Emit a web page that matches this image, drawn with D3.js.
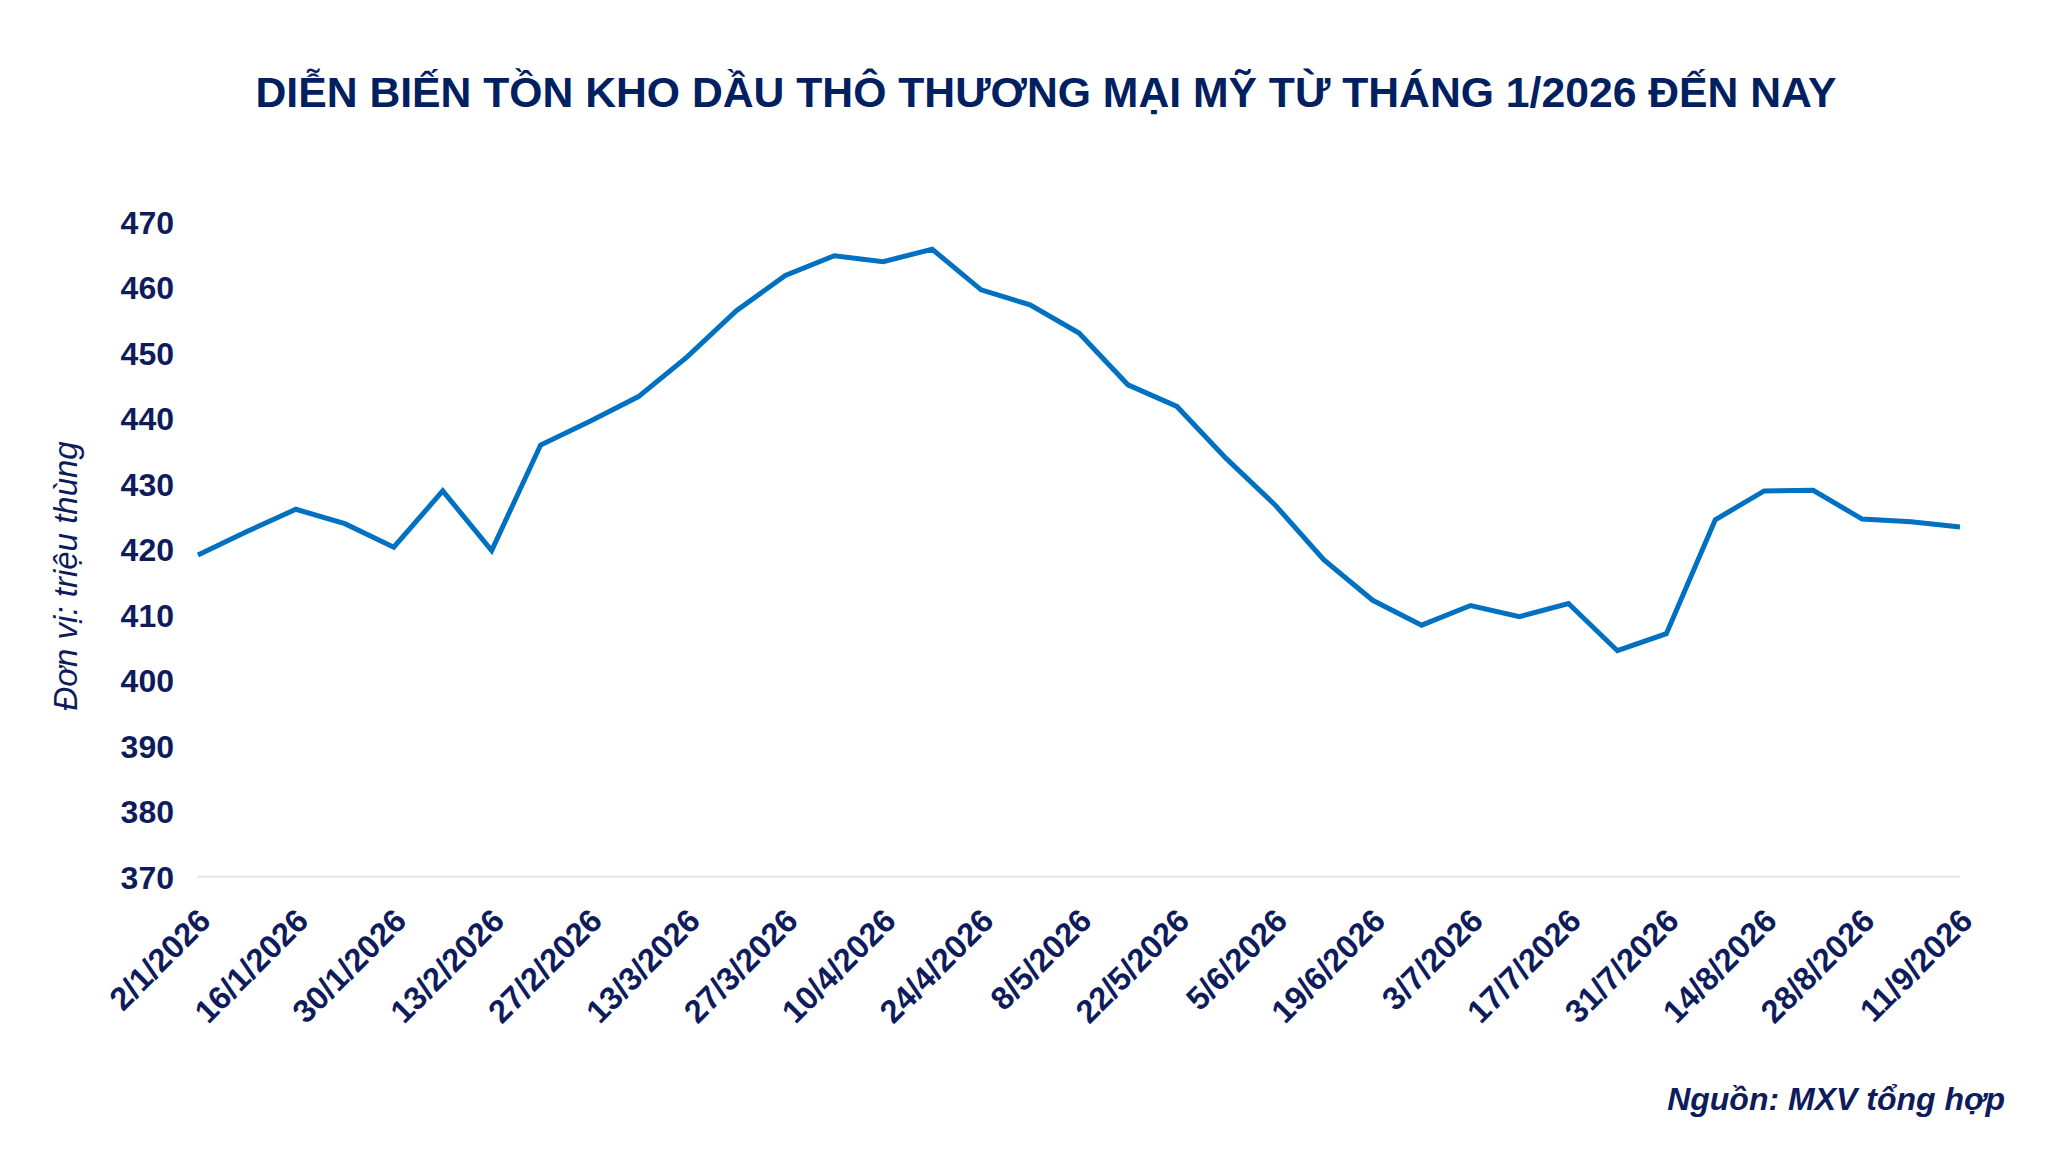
<!DOCTYPE html>
<html>
<head>
<meta charset="utf-8">
<script src="https://cdn.jsdelivr.net/npm/d3@7/dist/d3.min.js"></script>
<style>
  html, body { margin: 0; padding: 0; background: #ffffff; }
  svg { display: block; }
</style>
</head>
<body>
<svg id="chart" width="2048" height="1153"></svg>
<script>
// ---- Data ----
const categories = [
  "2/1/2026","9/1/2026","16/1/2026","23/1/2026","30/1/2026","6/2/2026","13/2/2026",
  "20/2/2026","27/2/2026","6/3/2026","13/3/2026","20/3/2026","27/3/2026","3/4/2026",
  "10/4/2026","17/4/2026","24/4/2026","1/5/2026","8/5/2026","15/5/2026","22/5/2026",
  "29/5/2026","5/6/2026","12/6/2026","19/6/2026","26/6/2026","3/7/2026","10/7/2026",
  "17/7/2026","24/7/2026","31/7/2026","7/8/2026","14/8/2026","21/8/2026","28/8/2026",
  "4/9/2026","11/9/2026"
];
const inventory = [
  419.1, 422.7, 426.1, 423.9, 420.3, 428.9, 419.8,
  435.9, 439.5, 443.3, 449.4, 456.4, 461.8, 464.8,
  463.9, 465.8, 459.6, 457.3, 453.0, 445.1, 441.8,
  433.9, 426.8, 418.4, 412.2, 408.4, 411.4, 409.7,
  411.7, 404.5, 407.1, 424.5, 428.9, 429.0, 424.6,
  424.2, 423.4
];
const xTickLabels = [
  "2/1/2026","16/1/2026","30/1/2026","13/2/2026","27/2/2026","13/3/2026","27/3/2026",
  "10/4/2026","24/4/2026","8/5/2026","22/5/2026","5/6/2026","19/6/2026","3/7/2026",
  "17/7/2026","31/7/2026","14/8/2026","28/8/2026","11/9/2026"
];
const yTicks = [370, 380, 390, 400, 410, 420, 430, 440, 450, 460, 470];

const titleText = "DIỄN BIẾN TỒN KHO DẦU THÔ THƯƠNG MẠI MỸ TỪ THÁNG 1/2026 ĐẾN NAY";
const yAxisTitle = "Đơn vị: triệu thùng";
const sourceText = "Nguồn: MXV tổng hợp";

// ---- Layout ----
const FONT = "'Liberation Sans', Arial, Helvetica, sans-serif";
const navy = "#0f1c5c";
const titleNavy = "#00205f";
const lineBlue = "#0070c0";

const svg = d3.select("#chart");

const x = d3.scalePoint()
  .domain(categories)
  .range([198, 1960]);

const y = d3.scaleLinear()
  .domain([370, 470])
  .range([876.7, 221.7]);

// Title
svg.append("text")
  .attr("x", 1046)
  .attr("y", 107)
  .attr("text-anchor", "middle")
  .style("font-family", FONT)
  .style("font-weight", "bold")
  .style("font-size", "42.7px")
  .style("fill", titleNavy)
  .text(titleText);

// Baseline gridline (x-axis line)
svg.append("line")
  .attr("x1", x.range()[0])
  .attr("x2", x.range()[1])
  .attr("y1", y(370))
  .attr("y2", y(370))
  .attr("stroke", "#e3e3e3")
  .attr("stroke-width", 2);

// Y axis
const yAxis = d3.axisLeft(y)
  .tickValues(yTicks)
  .tickSize(0)
  .tickPadding(0)
  .tickFormat(d3.format("d"));

const yg = svg.append("g")
  .attr("transform", "translate(174,0)")
  .call(yAxis);
yg.select(".domain").remove();
yg.selectAll("text")
  .attr("x", 0)
  .attr("dy", "0.36em")
  .style("font-family", FONT)
  .style("font-weight", "bold")
  .style("font-size", "32px")
  .style("fill", navy);

// X axis
const xAxis = d3.axisBottom(x)
  .tickValues(xTickLabels)
  .tickSize(0)
  .tickPadding(0);

const xg = svg.append("g")
  .attr("transform", `translate(0,${y(370)})`)
  .call(xAxis);
xg.select(".domain").remove();
xg.selectAll("text")
  .attr("x", 0)
  .attr("y", 0)
  .attr("dy", 0)
  .attr("text-anchor", "end")
  .attr("transform", "translate(14,46) rotate(-45)")
  .style("font-family", FONT)
  .style("font-weight", "bold")
  .style("font-size", "32.5px")
  .style("fill", navy);

// Y axis title
svg.append("text")
  .attr("transform", "translate(77,576) rotate(-90)")
  .attr("text-anchor", "middle")
  .style("font-family", FONT)
  .style("font-style", "italic")
  .style("font-size", "33px")
  .style("fill", navy)
  .text(yAxisTitle);

// Line
const line = d3.line()
  .x((d, i) => x(categories[i]))
  .y(d => y(d));

svg.append("path")
  .datum(inventory)
  .attr("d", line)
  .attr("fill", "none")
  .attr("stroke", lineBlue)
  .attr("stroke-width", 5)
  .attr("stroke-linejoin", "miter")
  .attr("stroke-linecap", "butt");

// Source
svg.append("text")
  .attr("x", 2005)
  .attr("y", 1110)
  .attr("text-anchor", "end")
  .style("font-family", FONT)
  .style("font-weight", "bold")
  .style("font-style", "italic")
  .style("font-size", "32px")
  .style("fill", navy)
  .text(sourceText);
</script>
</body>
</html>
